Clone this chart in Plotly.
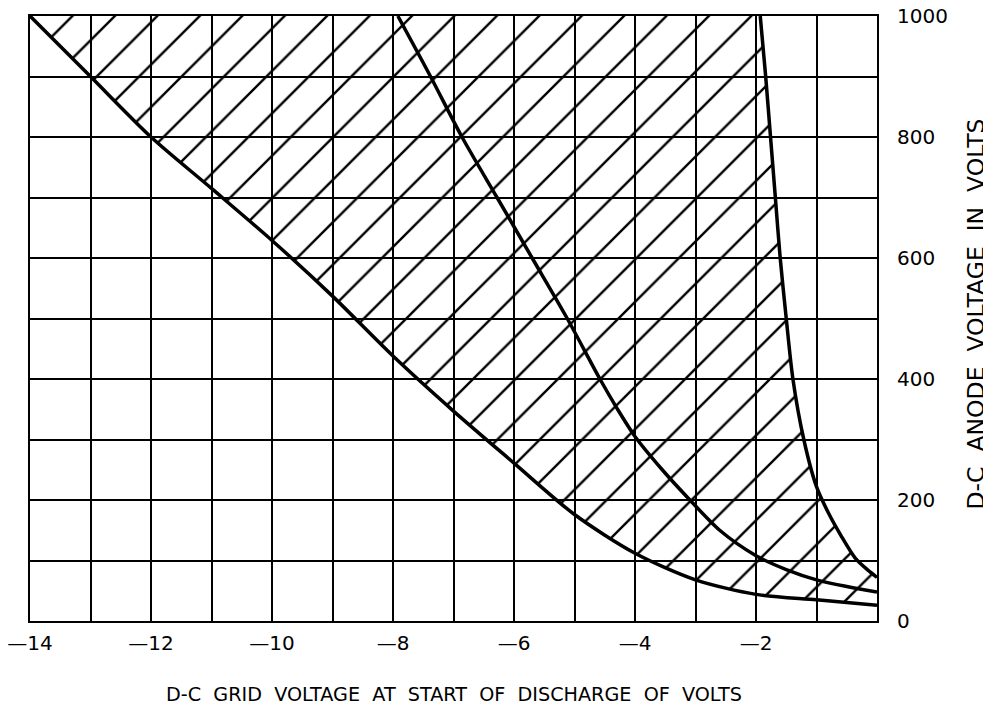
import plotly.graph_objects as go

# Lower/left boundary curve
c1_x = [-14, -13, -12, -11, -10, -9, -8, -7, -6, -5, -4, -3, -2, -1, 0]
c1_y = [1000, 900, 800, 715, 629, 537, 438, 347, 261, 176, 112, 68, 44, 35, 26]

# Middle curve
c2_x = [-7.92, -7.38, -6.86, -6.28, -5.7, -5.12, -4.58, -4.3, -4.0, -3.55, -3.12, -2.6, -2.0, -1.5, -1.0, -0.5, 0]
c2_y = [1000, 900, 800, 700, 600, 500, 400, 352, 305, 250, 203, 150, 108, 85, 68, 57, 48]

# Right (steep) boundary curve
c3_x = [-1.93, -1.84, -1.76, -1.68, -1.60, -1.50, -1.39, -1.21, -1.0, -0.8, -0.6, -0.36, -0.15, 0]
c3_y = [1000, 900, 800, 700, 600, 500, 400, 300, 222, 178, 142, 104, 84, 72]

x_ticks = [-14, -12, -10, -8, -6, -4, -2]
x_ticktext = ["\u201414", "\u201412", "\u201410", "\u20148", "\u20146", "\u20144", "\u20142"]
y_ticks = [0, 200, 400, 600, 800, 1000]

FONT = "DejaVu Sans"

fig = go.Figure()

# hatched region between the outer curves
poly_x = c1_x + c3_x[::-1] + [c1_x[0]]
poly_y = c1_y + c3_y[::-1] + [c1_y[0]]
fig.add_trace(go.Scatter(
    x=poly_x, y=poly_y, mode="lines", fill="toself",
    line=dict(width=0, color="rgba(0,0,0,0)"),
    fillcolor="rgba(0,0,0,0)",
    fillpattern=dict(shape="/", size=30, solidity=0.08, fgopacity=1,
                     fgcolor="black", bgcolor="rgba(0,0,0,0)"),
    hoverinfo="skip", showlegend=False,
))

for xs, ys in [(c1_x, c1_y), (c2_x, c2_y), (c3_x, c3_y)]:
    fig.add_trace(go.Scatter(
        x=xs, y=ys, mode="lines",
        line=dict(color="black", width=3.5, shape="spline", smoothing=0.8),
        showlegend=False, hoverinfo="skip",
    ))

fig.update_layout(
    width=983, height=701,
    margin=dict(l=22, r=114, t=8, b=88, autoexpand=False),
    plot_bgcolor="white", paper_bgcolor="white",
    font=dict(family=FONT, color="black", size=20),
)

fig.update_xaxes(
    range=[-14, 0], automargin=False,
    showgrid=True, gridcolor="black", gridwidth=1.8,
    minor=dict(dtick=1, tick0=0, showgrid=True, gridcolor="black", gridwidth=1.8),
    showline=True, linecolor="black", linewidth=2, mirror=True,
    zeroline=False, ticks="", ticklabelstandoff=3, ticklabeloverflow="allow",
    tickmode="array", tickvals=x_ticks, ticktext=x_ticktext,
    tickfont=dict(size=20, family=FONT),
)

fig.update_yaxes(
    range=[0, 1000], side="right", automargin=False,
    tickmode="array", tickvals=y_ticks,
    showgrid=True, gridcolor="black", gridwidth=1.8,
    minor=dict(dtick=100, tick0=0, showgrid=True, gridcolor="black", gridwidth=1.8),
    showline=True, linecolor="black", linewidth=2, mirror=True,
    zeroline=False, ticks="", ticklabelstandoff=14, ticklabeloverflow="allow",
    tickfont=dict(size=20, family=FONT),
)

fig.add_annotation(
    text="D-C  GRID  VOLTAGE  AT  START  OF  DISCHARGE  OF  VOLTS",
    xref="paper", yref="paper", x=0.5, y=0, xanchor="center", yanchor="middle",
    yshift=-73, showarrow=False, font=dict(size=19.2, family=FONT),
)
fig.add_annotation(
    text="D-C  ANODE  VOLTAGE  IN  VOLTS",
    xref="paper", yref="paper", x=1, y=0.5, xanchor="center", yanchor="middle",
    xshift=98, yshift=4, textangle=-90, showarrow=False, font=dict(size=23.5, family=FONT),
)

fig.write_html("out.html")
